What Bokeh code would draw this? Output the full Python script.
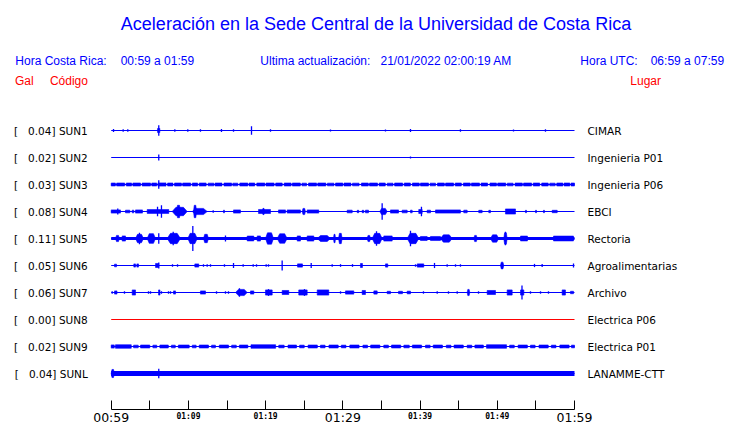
from bokeh.plotting import figure
from bokeh.models import Range1d, FixedTicker, LinearAxis, ColumnDataSource
from bokeh.core.properties import value
from bokeh.embed import file_html
from bokeh.resources import INLINE

# ---------------- data ----------------
stations = ["SUN1", "SUN2", "SUN3", "SUN4", "SUN5", "SUN6", "SUN7", "SUN8", "SUN9", "SUNL"]
peaks_gal = [0.04, 0.02, 0.03, 0.08, 0.11, 0.05, 0.06, 0.00, 0.02, 0.04]
places = ["CIMAR", "Ingenieria P01", "Ingenieria P06", "EBCI", "Rectoria",
          "Agroalimentarias", "Archivo", "Electrica P06", "Electrica P01", "LANAMME-CTT"]

# continuous background noise level of each trace (relative amplitude, 1 = half row)
noise_level = [0.0, 0.0, 0.0, 0.0, 0.12, 0.0, 0.0, 0.0, 0.0, 0.19]

# time axis: minutes after 00:59 local time
tick_minutes = [0, 5, 10, 15, 20, 25, 30, 35, 40, 45, 50, 55, 60]
big_tick_labels = {0: "00:59", 30: "01:29", 60: "01:59"}
small_tick_labels = {10: "01:09", 20: "01:19", 40: "01:39", 50: "01:49"}

title_text = "Aceleración en la Sede Central de la Universidad de Costa Rica"
local_window = "00:59 a 01:59"
utc_window = "06:59 a 07:59"
updated = "21/01/2022 02:00:19 AM"

# bursts: (start minute, end minute, relative amplitude); spikes: (minute, relative amplitude)
sun1_bursts = [(6.00, 6.30, 0.15)]
sun1_spikes = [(0.30, 0.12), (1.55, 0.10), (2.15, 0.10), (6.16, 0.38), (8.24, 0.10), (9.92, 0.10),
               (11.56, 0.10), (14.28, 0.12), (15.84, 0.10), (18.17, 0.31), (20.63, 0.10), (28.40, 0.08),
               (35.52, 0.08), (38.76, 0.12), (45.23, 0.10), (52.10, 0.08), (56.24, 0.10)]
sun2_bursts = []
sun2_spikes = [(6.16, 0.23), (38.76, 0.08)]
sun3_bursts = [(0.0, 0.55, 0.11), (0.7, 1.75, 0.11), (1.95, 2.65, 0.11), (2.8, 3.8, 0.11),
               (4.0, 5.1, 0.11), (5.25, 5.9, 0.11), (6.05, 7.1, 0.12), (7.3, 8.0, 0.11),
               (8.2, 9.1, 0.11), (9.25, 10.3, 0.11), (10.5, 11.2, 0.11), (11.4, 12.3, 0.11),
               (12.55, 13.3, 0.10), (13.45, 14.35, 0.11), (14.6, 15.6, 0.11), (15.75, 16.4, 0.10),
               (16.65, 17.7, 0.11), (17.85, 18.6, 0.11), (18.85, 19.9, 0.11), (20.05, 21.1, 0.11),
               (21.3, 22.15, 0.11), (22.4, 23.3, 0.11), (23.45, 24.5, 0.11), (24.7, 25.3, 0.10),
               (25.55, 26.6, 0.11), (26.75, 27.8, 0.11), (28.0, 28.85, 0.10), (29.05, 30.0, 0.11),
               (30.15, 31.05, 0.11), (31.25, 32.1, 0.10), (32.4, 33.3, 0.11), (33.45, 34.5, 0.11),
               (34.7, 35.5, 0.11), (35.75, 36.5, 0.10), (36.7, 37.75, 0.11), (37.95, 38.75, 0.11),
               (39.0, 39.9, 0.11), (40.05, 41.1, 0.11), (41.3, 42.0, 0.10), (42.25, 43.15, 0.11),
               (43.3, 44.35, 0.11), (44.55, 45.35, 0.11), (45.6, 46.5, 0.11), (46.65, 47.7, 0.11),
               (47.9, 48.75, 0.11), (49.05, 49.9, 0.11), (50.05, 51.1, 0.11), (51.3, 52.05, 0.10),
               (52.3, 53.25, 0.11), (53.4, 54.45, 0.11), (54.65, 55.5, 0.11), (55.75, 56.6, 0.11),
               (56.8, 57.5, 0.10), (57.7, 58.5, 0.11), (58.65, 59.4, 0.11), (59.55, 60.0, 0.11)]
sun3_spikes = [(6.16, 0.31)]
sun4_bursts = [(0.0, 1.2, 0.12), (1.85, 2.41, 0.10), (2.72, 2.93, 0.10), (3.15, 4.05, 0.12),
               (4.66, 7.46, 0.14), (7.90, 9.84, 0.31), (8.46, 8.97, 0.46), (10.49, 12.43, 0.23),
               (10.66, 11.05, 0.46), (14.54, 14.67, 0.10), (15.84, 16.74, 0.12), (19.08, 20.63, 0.15),
               (19.59, 19.85, 0.23), (21.67, 22.57, 0.12), (22.79, 24.51, 0.12), (24.73, 25.16, 0.23),
               (25.38, 26.88, 0.12), (30.56, 31.21, 0.10), (31.86, 32.06, 0.09), (32.50, 32.71, 0.09),
               (32.93, 33.32, 0.10), (34.78, 35.74, 0.23), (36.17, 37.21, 0.12), (37.68, 38.33, 0.10),
               (38.76, 38.98, 0.10), (39.83, 40.27, 0.15), (40.92, 41.35, 0.10), (42.00, 45.23, 0.12),
               (45.66, 46.10, 0.10), (47.60, 48.04, 0.09), (48.90, 49.12, 0.09), (51.06, 52.36, 0.19),
               (53.65, 53.78, 0.09), (54.95, 55.08, 0.09), (55.98, 56.11, 0.09), (57.11, 57.76, 0.09)]
sun4_spikes = [(0.85, 0.23), (6.00, 0.36), (6.51, 0.46), (13.21, 0.10), (19.72, 0.23),
               (35.09, 0.62), (40.18, 0.36)]
sun5_bursts = [(0.56, 1.07, 0.23), (1.42, 1.85, 0.19), (3.15, 4.18, 0.31), (4.66, 5.74, 0.36),
               (7.25, 8.97, 0.38), (9.92, 11.14, 0.38), (11.95, 12.60, 0.31), (17.61, 18.47, 0.18),
               (18.91, 19.33, 0.19), (19.98, 21.02, 0.42), (21.50, 22.79, 0.35), (24.09, 24.51, 0.19),
               (25.38, 26.24, 0.19), (26.68, 28.40, 0.22), (28.79, 29.05, 0.31), (29.44, 29.91, 0.38),
               (33.15, 33.58, 0.23), (33.80, 35.09, 0.38), (35.30, 36.39, 0.19), (38.33, 39.83, 0.38),
               (40.05, 40.92, 0.15), (41.35, 42.64, 0.15), (42.64, 44.16, 0.27), (46.96, 47.40, 0.23),
               (49.12, 50.19, 0.27), (50.84, 51.28, 0.42), (53.01, 53.91, 0.18), (57.28, 59.87, 0.18)]
sun5_spikes = [(3.66, 0.42), (6.16, 0.38), (8.03, 0.50), (10.57, 0.92), (14.80, 0.23),
               (34.36, 0.54), (38.76, 0.58), (51.06, 0.50)]
sun6_bursts = [(0.43, 0.69, 0.10), (2.93, 3.15, 0.12), (3.32, 3.54, 0.12), (5.74, 6.16, 0.15),
               (10.83, 11.34, 0.12), (24.13, 24.77, 0.12), (32.28, 32.54, 0.15), (35.52, 35.82, 0.12),
               (39.63, 40.48, 0.12), (50.41, 50.84, 0.25)]
sun6_spikes = [(6.16, 0.23), (7.94, 0.10), (8.59, 0.10), (11.95, 0.09), (12.43, 0.09), (12.86, 0.09),
               (14.67, 0.09), (15.84, 0.19), (17.09, 0.09), (18.39, 0.10), (18.82, 0.09), (20.07, 0.09),
               (20.37, 0.09), (22.14, 0.37), (25.90, 0.19), (28.62, 0.10), (29.70, 0.10), (31.25, 0.10),
               (39.41, 0.09), (41.87, 0.19), (43.51, 0.09), (44.59, 0.09), (45.23, 0.09), (54.82, 0.12),
               (55.81, 0.12), (59.87, 0.15)]
sun7_bursts = [(0.43, 0.75, 0.12), (2.72, 3.15, 0.19), (6.13, 6.32, 0.19), (8.07, 8.33, 0.12),
               (11.56, 12.21, 0.12), (16.10, 17.61, 0.23), (18.04, 18.47, 0.12), (19.98, 20.85, 0.19),
               (22.14, 23.00, 0.15), (24.29, 25.38, 0.19), (26.68, 28.18, 0.19), (30.34, 31.42, 0.12),
               (32.50, 32.93, 0.15), (34.01, 34.45, 0.12), (35.74, 36.17, 0.09), (37.21, 37.72, 0.09),
               (38.33, 38.76, 0.10), (46.10, 46.44, 0.23), (48.69, 49.77, 0.15), (51.28, 51.93, 0.19),
               (53.01, 53.44, 0.19), (58.40, 58.83, 0.19), (59.48, 59.87, 0.09)]
sun7_spikes = [(0.13, 0.09), (1.72, 0.09), (4.83, 0.09), (5.09, 0.09), (6.51, 0.09), (7.42, 0.09),
               (7.68, 0.09), (13.64, 0.09), (14.80, 0.09), (15.19, 0.09), (16.61, 0.31), (20.37, 0.25),
               (25.03, 0.25), (29.70, 0.09), (40.44, 0.09), (42.22, 0.09), (43.68, 0.09), (44.81, 0.09),
               (47.57, 0.09), (53.20, 0.52), (54.30, 0.09), (55.60, 0.09), (56.63, 0.09)]
sun8_bursts = []
sun8_spikes = []
sun9_bursts = [(0.0, 0.4, 0.12), (0.55, 2.6, 0.13), (2.9, 3.5, 0.10), (3.8, 5.0, 0.11),
               (5.4, 5.9, 0.10), (6.3, 7.4, 0.11), (7.8, 8.3, 0.10), (8.7, 10.1, 0.11),
               (10.5, 11.0, 0.10), (11.4, 12.6, 0.11), (13.0, 13.5, 0.10), (14.0, 15.2, 0.11),
               (15.6, 16.2, 0.10), (16.6, 17.7, 0.11), (18.1, 21.3, 0.13), (21.7, 22.4, 0.10),
               (22.9, 24.0, 0.11), (24.4, 25.0, 0.10), (25.5, 26.7, 0.11), (27.1, 27.7, 0.10),
               (28.2, 29.4, 0.11), (29.8, 30.4, 0.10), (30.9, 32.1, 0.11), (32.6, 33.2, 0.10),
               (33.6, 34.8, 0.11), (35.3, 35.9, 0.10), (36.3, 37.5, 0.11), (37.9, 38.6, 0.10),
               (39.0, 40.2, 0.11), (40.7, 41.3, 0.10), (41.7, 42.9, 0.11), (43.4, 44.0, 0.10),
               (44.4, 45.6, 0.11), (46.1, 46.7, 0.10), (47.1, 48.2, 0.11), (48.6, 51.2, 0.13),
               (51.6, 52.2, 0.10), (52.7, 53.9, 0.11), (54.3, 54.9, 0.10), (55.4, 56.6, 0.11),
               (57.0, 57.6, 0.10), (58.1, 59.3, 0.11), (59.6, 60.0, 0.10)]
sun9_spikes = []
sunl_bursts = [(0.0, 0.4, 0.30)]
sunl_spikes = [(6.16, 0.36)]

all_bursts = [sun1_bursts, sun2_bursts, sun3_bursts, sun4_bursts, sun5_bursts,
              sun6_bursts, sun7_bursts, sun8_bursts, sun9_bursts, sunl_bursts]
all_spikes = [sun1_spikes, sun2_spikes, sun3_spikes, sun4_spikes, sun5_spikes,
              sun6_spikes, sun7_spikes, sun8_spikes, sun9_spikes, sunl_spikes]

# ---------------- layout / styles ----------------
BLUE = "#0000FF"
RED = "#FF0000"
W, H = 740, 423
X0_PX, X1_PX = 110.7, 574.0          # pixel columns of minute 0 and minute 60
ROW0_PX, ROW_PX = 103.0, 27.0        # pixel row of row index 0, row spacing
AXIS_PX = 409.0
PX_PER_MIN = (X1_PX - X0_PX) / 60.0
HALF = 0.5                           # relative amplitude 1 -> half a row
TAPER = 0.25                         # envelope ramp for large bursts (fraction of duration)
TAPER_MIN_AMP = 0.2                  # small bursts are drawn as plain blocks


def xd(px):
    return (px - X0_PX) / PX_PER_MIN


def yd(py):
    return (py - ROW0_PX) / ROW_PX


rows = list(range(1, len(stations) + 1))
colors = [RED if g == 0 else BLUE for g in peaks_gal]

p = figure(width=W, height=H, x_range=Range1d(xd(0), xd(W)), y_range=Range1d(yd(H), yd(0)),
           output_backend="svg", toolbar_location=None,
           x_axis_type=None, y_axis_type=None,
           min_border=0, min_border_left=0, min_border_right=0,
           min_border_top=0, min_border_bottom=0)
p.outline_line_color = None
p.background_fill_color = "white"
p.border_fill_color = "white"

# baselines
p.segment(x0=[0] * len(rows), x1=[60] * len(rows), y0=rows, y1=rows,
          line_color=colors, line_width=1.2)

# continuous noise bands
nz = [(r, n, c) for r, n, c in zip(rows, noise_level, colors) if n > 0]
p.quad(left=[0] * len(nz), right=[60] * len(nz),
       bottom=[r - n * HALF for r, n, c in nz], top=[r + n * HALF for r, n, c in nz],
       fill_color=[c for r, n, c in nz], line_color=None)

# bursts: tapered envelopes for large ones, blocks for small ones
bxs, bys, bc = [], [], []
for r, bursts, c in zip(rows, all_bursts, colors):
    for t0, t1, a in bursts:
        d = (t1 - t0) * (TAPER if a >= TAPER_MIN_AMP else 0.0)
        h = a * HALF
        bxs.append([t0, t0 + d, t1 - d, t1, t1 - d, t0 + d])
        bys.append([r - (h if d == 0 else 0), r - h, r - h, r - (h if d == 0 else 0), r + h, r + h])
        bc.append(c)
# closed outline for blocks: reorder so rectangles are proper
for i, (xs, ys) in enumerate(zip(bxs, bys)):
    if xs[1] == xs[0]:
        t0, t1 = xs[0], xs[3]
        h = ys[4] - ys[3] if False else None
        lo, hi = min(ys), max(ys)
        bxs[i] = [t0, t1, t1, t0]
        bys[i] = [lo, lo, hi, hi]
p.patches(source=ColumnDataSource(dict(xs=bxs, ys=bys, color=bc)), xs="xs", ys="ys",
          fill_color="color", line_color="color", line_width=0.6)

# spikes
sx, s0, s1, sc = [], [], [], []
for r, spikes, c in zip(rows, all_spikes, colors):
    for t, a in spikes:
        sx.append(t); s0.append(r - a * HALF); s1.append(r + a * HALF); sc.append(c)
p.segment(source=ColumnDataSource(dict(x=sx, y0=s0, y1=s1, color=sc)),
          x0="x", x1="x", y0="y0", y1="y1", line_color="color", line_width=1.3)

# time axis, drawn at a fixed location inside the plot area
xaxis = LinearAxis(ticker=FixedTicker(ticks=tick_minutes), fixed_location=yd(AXIS_PX),
                   bounds=(0, 60),
                   major_label_overrides={m: big_tick_labels.get(m, "") for m in tick_minutes})
xaxis.major_tick_in = 9
xaxis.major_tick_out = 0
xaxis.minor_tick_line_color = None
xaxis.axis_line_color = "black"
xaxis.major_tick_line_color = "black"
xaxis.major_label_standoff = 0
xaxis.major_label_text_font = "DejaVu Sans"
xaxis.major_label_text_font_size = "12.5px"
xaxis.major_label_text_color = "black"
p.add_layout(xaxis, "below")

sm = list(small_tick_labels.keys())
p.text(x=sm, y=[yd(415.7)] * len(sm), text=[small_tick_labels[m] for m in sm],
       text_align="center", text_baseline="middle", text_color="black",
       text_font=value("DejaVu Sans Mono"), text_font_style="bold", text_font_size=value("8px"))

# station labels
NB = "\u00a0"
left_labels = ["[" + NB * 3 + f"{g:.2f}] {s}" for g, s in zip(peaks_gal, stations)]
p.text(x=[0] * len(rows), y=rows, text=left_labels, x_offset=-23.4,
       text_align="right", text_baseline="middle", text_color="black",
       text_font=value("DejaVu Sans"), text_font_size=value("10.5px"))
p.text(x=[60] * len(rows), y=rows, text=places, x_offset=13.0,
       text_align="left", text_baseline="middle", text_color="black",
       text_font=value("DejaVu Sans"), text_font_size=value("10.5px"))

# header texts
def hdr(px, py, txt, color, size="12px", align="left"):
    p.text(x=[xd(px)], y=[yd(py)], text=[txt], text_color=color,
           text_font=value("Liberation Sans"), text_font_size=value(size),
           text_align=align, text_baseline="alphabetic")


hdr(375.5, 23.5, title_text, BLUE, "18px", "center")
hdr(14.8, 60.3, "Hora Costa Rica:", BLUE)
hdr(120.2, 60.3, local_window, BLUE)
hdr(259.8, 60.3, "Ultima actualización:", BLUE)
hdr(380.0, 60.3, updated, BLUE)
hdr(579.8, 60.3, "Hora UTC:", BLUE)
hdr(650.2, 60.3, utc_window, BLUE)
hdr(14.4, 80.0, "Gal", RED)
hdr(49.4, 80.0, "Código", RED)
hdr(629.8, 80.0, "Lugar", RED)

open("out.html", "w").write(file_html(p, INLINE))
